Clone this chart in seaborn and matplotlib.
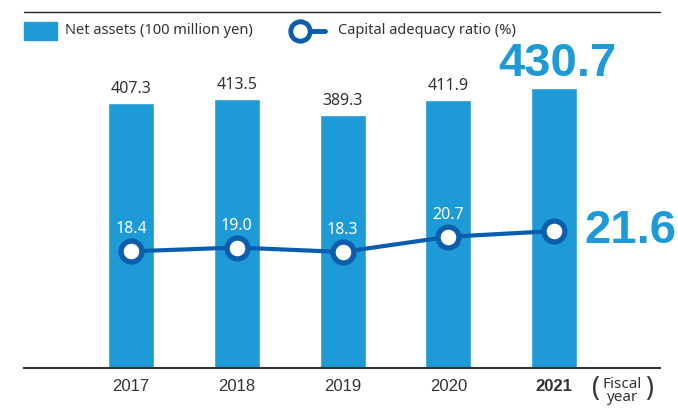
import numpy as np
import pandas as pd
import matplotlib
matplotlib.use("Agg")
import matplotlib.pyplot as plt
import seaborn as sns
from matplotlib.lines import Line2D
from matplotlib.patches import Rectangle

# Chart data
years = ["2017", "2018", "2019", "2020", "2021"]
net_assets = [407.3, 413.5, 389.3, 411.9, 430.7]
capital_ratio = [18.4, 19.0, 18.3, 20.7, 21.6]

bar_color = "#1e9ad6"
line_color = "#0b5eae"
text_color = "#333333"

sns.set_theme(style="white")
plt.rcParams['font.family'] = ['Noto Sans', 'DejaVu Sans']

df = pd.DataFrame({"year": years, "net_assets": net_assets,
                   "ratio": capital_ratio, "pos": np.arange(len(years))})

fig = plt.figure(figsize=(6.78, 4.08), dpi=100)
ax = fig.add_axes([24 / 678, 40 / 408, 636 / 678, 356 / 408])

# Bars: net assets
sns.barplot(data=df, x="year", y="net_assets", color=bar_color, width=0.435,
            saturation=1, ax=ax)
ax.set_ylim(0, 547)
ax.set_xlim(-1.012, 5.0)

# Line: capital adequacy ratio on a secondary axis
ax2 = ax.twinx()
sns.lineplot(data=df, x="pos", y="ratio", color=line_color, linewidth=3,
             marker="o", markersize=15, markerfacecolor="white",
             markeredgecolor=line_color, markeredgewidth=3.8, ax=ax2, zorder=5)
ax2.set_ylim(0, 356 / 6.34)
ax2.set_xlim(ax.get_xlim())

for a in (ax, ax2):
    a.set_xlabel("")
    a.set_ylabel("")
    a.set_yticks([])
    for s in a.spines.values():
        s.set_visible(False)
ax2.set_xticks([])

ax.spines["bottom"].set_visible(True)
ax.spines["bottom"].set_color("#333333")
ax.spines["bottom"].set_linewidth(1.5)
ax.tick_params(axis="x", length=0, pad=8)
ax.set_xticks(range(len(years)))
ax.set_xticklabels(years, fontsize=12, color=text_color,
                   family=["Liberation Sans", "DejaVu Sans"])
ax.get_xticklabels()[-1].set_fontweight("bold")

# Value labels
for i, (v, r) in enumerate(zip(net_assets, capital_ratio)):
    if i < len(years) - 1:
        ax.annotate(f"{v:.1f}", (i, v), xytext=(0, 4), textcoords="offset points",
                    ha="center", va="bottom", fontsize=11.5, color=text_color)
        ax2.annotate(f"{r:.1f}", (i, r), xytext=(0, 10), textcoords="offset points",
                     ha="center", va="bottom", fontsize=11.5, color="white",
                     fontweight="light", zorder=6)
    else:
        ax.annotate(f"{v:.1f}", (i, v), xytext=(2, 1), textcoords="offset points",
                    ha="center", va="bottom", fontsize=34, fontweight="bold",
                    color=bar_color, family=["Liberation Sans", "DejaVu Sans"])
        ax2.annotate(f"{r:.1f}", (i, r), xytext=(22, 0), textcoords="offset points",
                     ha="left", va="center", fontsize=34, fontweight="bold",
                     color=bar_color, family=["Liberation Sans", "DejaVu Sans"])

# "(Fiscal year)" note
fig.text(622 / 678, 1 - 391 / 408, "Fiscal\nyear", ha="center", va="center",
         fontsize=11, color=text_color, linespacing=0.8)
fig.text(596 / 678, 1 - 389 / 408, "(", ha="center", va="center",
         fontsize=19, color=text_color, fontweight="light")
fig.text(649 / 678, 1 - 389 / 408, ")", ha="center", va="center",
         fontsize=19, color=text_color, fontweight="light")

# Top rule
fig.add_artist(Line2D([24 / 678, 660 / 678], [1 - 12 / 408, 1 - 12 / 408],
                      color="#222222", linewidth=1))

# Legend
fig.add_artist(Rectangle((24 / 678, 1 - 40 / 408), 33 / 678, 18 / 408,
                         color=bar_color, transform=fig.transFigure))
fig.text(65 / 678, 1 - 31 / 408, "Net assets (100 million yen)",
         ha="left", va="center", fontsize=10.5, color=text_color)
fig.add_artist(Line2D([300 / 678, 325 / 678], [1 - 31 / 408, 1 - 31 / 408],
                      color=line_color, linewidth=3.5))
fig.add_artist(Line2D([300 / 678], [1 - 31 / 408], marker="o", markersize=14,
                      markerfacecolor="white", markeredgecolor=line_color,
                      markeredgewidth=3.5))
fig.text(338 / 678, 1 - 31 / 408, "Capital adequacy ratio (%)",
         ha="left", va="center", fontsize=10.5, color=text_color)

fig.savefig("out.png", dpi=100)
